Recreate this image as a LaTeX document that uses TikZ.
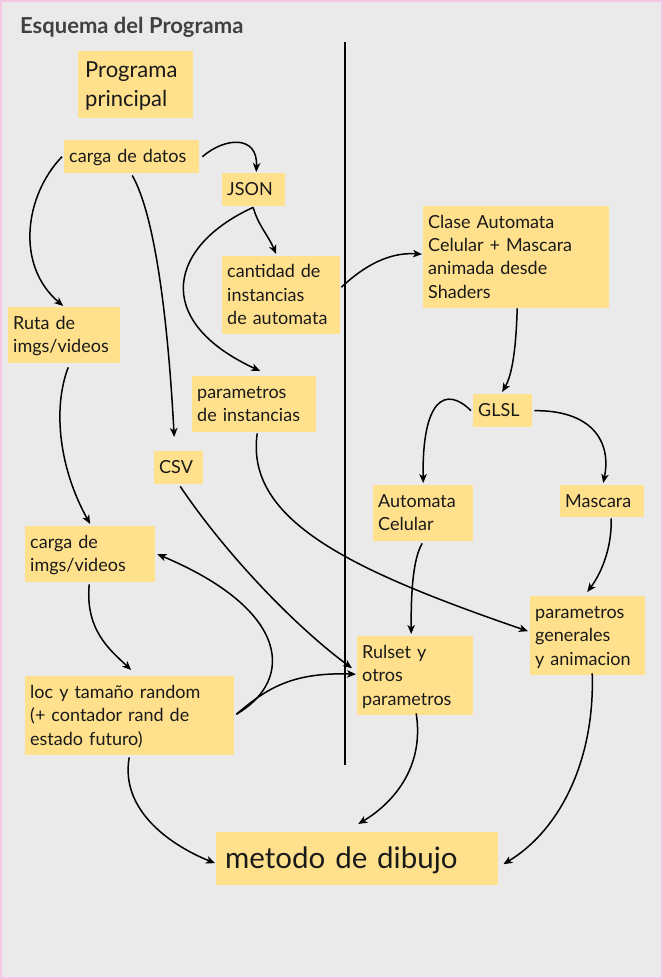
\documentclass[tikz,border=0pt]{standalone}
\usepackage{fontspec}
\setmainfont{Lato}
\usetikzlibrary{arrows.meta}
\definecolor{bgc}{HTML}{EAEAEA}
\definecolor{boxc}{HTML}{FFE08C}
\definecolor{pinkc}{HTML}{F7C6E2}
\definecolor{titlec}{HTML}{404040}
\definecolor{txtc}{HTML}{1A1A1A}
\tikzset{
  box/.style={fill=boxc, anchor=north west, inner xsep=5pt, inner ysep=0pt,
    align=left, text=txtc, font=\fontsize{18}{23.3}\selectfont,
    text height=14pt, text depth=2pt},
  two/.style={text depth=25.3pt},
  three/.style={text depth=48.6pt},
  four/.style={text depth=71.9pt},
  arr/.style={draw=black, line width=1.5pt, -{Stealth[length=9pt,width=7.5pt,inset=2.5pt]}},
}
\begin{document}
\begin{tikzpicture}[x=1pt,y=-1pt]
\useasboundingbox (0,0) rectangle (663,979);
\fill[bgc] (0,0) rectangle (663,979);
\draw[pinkc, line width=2pt] (1,1) rectangle (662,978);

\node[anchor=base west, text=titlec, font=\fontsize{22}{26}\selectfont\bfseries, inner sep=0pt] (title) at (20,33.3) {Esquema del Programa};

\coordinate (vtop) at (345,42);
\coordinate (vbot) at (345,765);
\draw[line width=1.5pt] (vtop) -- (vbot);

\node[box, inner xsep=7pt, font=\fontsize{22}{28.7}\selectfont, text height=16.5pt, text depth=30.3pt, minimum height=67pt, text width=101pt] (prog) at (78,51) {Programa\\principal};
\node[box, minimum height=33pt, text width=125pt] (datos) at (64,140) {carga de datos};
\node[box, minimum height=33pt, text width=53pt] (json) at (222,173) {JSON};
\node[box, three, minimum height=78pt, text width=108pt] (cant) at (222,256) {cantidad de\\instancias\\de automata};
\node[box, four, minimum height=102pt, text width=176pt] (clase) at (423,206) {Clase Automata\\Celular + Mascara\\animada desde\\Shaders};
\node[box, two, minimum height=56pt, text width=102pt] (ruta) at (8,307) {Ruta de\\imgs/videos};
\node[box, two, minimum height=56pt, text width=114pt] (pinst) at (192,376) {parametros\\de instancias};
\node[box, minimum height=33pt, text width=39pt] (csv) at (154,451) {CSV};
\node[box, minimum height=33pt, text width=49pt] (glsl) at (473,394) {GLSL};
\node[box, two, minimum height=56pt, text width=90pt] (autom) at (373,485) {Automata\\Celular};
\node[box, minimum height=32pt, text width=74pt] (masc) at (560,485) {Mascara};
\node[box, two, minimum height=56pt, text width=120pt] (cimg) at (25,526) {carga de\\imgs/videos};
\node[box, three, minimum height=79pt, text width=199pt] (loc) at (25,676) {loc y tamaño random\\(+ contador rand de\\estado futuro)};
\node[box, three, minimum height=79pt, text width=106pt] (rul) at (357,636) {Rulset y\\otros\\parametros};
\node[box, three, minimum height=79pt, text width=105pt] (pgen) at (530,596) {parametros\\generales\\y animacion};
\node[box, inner xsep=9pt, font=\fontsize{29.5}{32}\selectfont, text height=21pt, text depth=1.4pt, minimum height=53pt, text width=264pt] (met) at (216,832) {metodo de dibujo};

% connectors
\draw[arr] ([shift={(3,0)}]datos.east) .. controls (225,137) and (258,135) .. ([shift={(2.5,-1)}]json.north);
\draw[arr] ([shift={(-2,0)}]datos.west) .. controls (25,195) and (15,265) .. ([shift={(-1,-1)}]ruta.north);
\draw[arr] ([shift={(0.5,2)}]datos.south) .. controls (155,215) and (168,320) .. ([shift={(-4.5,-14)}]csv.north);
\draw[arr] ([shift={(-0.5,1)}]json.south) .. controls (258,225) and (268,235) .. ([shift={(-5,-2)}]cant.north);
\draw[arr] ([shift={(-0.5,1)}]json.south) .. controls (170,245) and (150,320) .. ([shift={(6,-5)}]pinst.north);
\draw[arr] ([shift={(1,-8)}]cant.east) .. controls (365,265) and (390,252) .. ([shift={(-1,-3)}]clase.west);
\draw[arr] ([shift={(1,0)}]clase.south) .. controls (516,350) and (512,375) .. ([shift={(-0.5,-2)}]glsl.north);
\draw[arr] ([shift={(-2,0)}]glsl.west) .. controls (445,385) and (422,400) .. ([shift={(0,-2)}]autom.north);
\draw[arr] ([shift={(2,0)}]glsl.east) .. controls (590,410) and (612,440) .. ([shift={(1,-2)}]masc.north);
\draw[arr] ([shift={(4,4)}]ruta.south) .. controls (52,410) and (60,470) .. ([shift={(0,-2)}]cimg.north);
\draw[arr] ([shift={(-1,2)}]cimg.south) .. controls (85,630) and (110,650) .. ([shift={(1.5,-6)}]loc.north);
\draw[arr] ([shift={(2,-1.5)}]loc.east) .. controls (295,680) and (290,610) .. ([shift={(2,0)}]cimg.east);
\draw[arr] ([shift={(2,-1.5)}]loc.east) .. controls (265,690) and (290,672) .. ([shift={(-1,-1.5)}]rul.west);
\draw[arr] ([shift={(1.5,2)}]csv.south) .. controls (230,560) and (300,630) .. ([shift={(-5,-7.5)}]rul.west);
\draw[arr] ([shift={(3,1)}]pinst.south) .. controls (245,520) and (350,570) .. ([shift={(-2,-4.5)}]pgen.west);
\draw[arr] ([shift={(-1,2)}]autom.south) .. controls (412,560) and (411,600) .. ([shift={(-4,-2)}]rul.north);
\draw[arr] ([shift={(9,1)}]masc.south) .. controls (612,550) and (600,575) .. ([shift={(-0.5,-4)}]pgen.north);
\draw[arr] ([shift={(-0.5,2)}]loc.south) .. controls (120,810) and (170,845) .. ([shift={(-1,4.5)}]met.west);
\draw[arr] ([shift={(1,-2)}]rul.south) .. controls (425,770) and (390,805) .. ([shift={(1,-8)}]met.north);
\draw[arr] ([shift={(4.5,-2)}]pgen.south) .. controls (595,760) and (560,830) .. ([shift={(5,5.5)}]met.east);
\end{tikzpicture}
\end{document}
